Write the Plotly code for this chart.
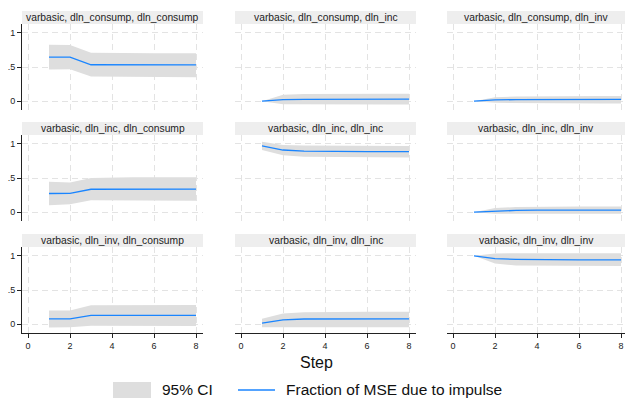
import plotly.graph_objects as go

# ---------------- data ----------------
steps = [1, 2, 3, 4, 5, 6, 7, 8]
irf_name = "varbasic"
variables = ["dln_consump", "dln_inc", "dln_inv"]
x_tickvals = [0, 2, 4, 6, 8]
y_tickvals = [0, 0.5, 1]
y_ticktext = ["0", ".5", "1"]
x_title = "Step"
ci_label = "95% CI"
line_label = "Fraction of MSE due to impulse"

# impulse dln_consump
fevd_consump_consump = [0.645, 0.645, 0.533, 0.532, 0.531, 0.531, 0.531, 0.531]
lo_consump_consump = [0.465, 0.468, 0.360, 0.352, 0.350, 0.350, 0.350, 0.350]
hi_consump_consump = [0.825, 0.822, 0.710, 0.705, 0.703, 0.703, 0.703, 0.703]

fevd_consump_inc = [0.0, 0.022, 0.026, 0.027, 0.028, 0.028, 0.028, 0.028]
lo_consump_inc = [0.0, -0.045, -0.050, -0.050, -0.050, -0.050, -0.050, -0.050]
hi_consump_inc = [0.0, 0.094, 0.105, 0.108, 0.108, 0.108, 0.108, 0.108]

fevd_consump_inv = [0.0, 0.018, 0.022, 0.024, 0.025, 0.025, 0.025, 0.025]
lo_consump_inv = [0.0, -0.025, -0.033, -0.035, -0.036, -0.036, -0.036, -0.036]
hi_consump_inv = [0.0, 0.055, 0.068, 0.072, 0.074, 0.075, 0.075, 0.075]

# impulse dln_inc
fevd_inc_consump = [0.273, 0.275, 0.335, 0.337, 0.338, 0.338, 0.338, 0.338]
lo_inc_consump = [0.100, 0.117, 0.175, 0.170, 0.168, 0.168, 0.168, 0.168]
hi_inc_consump = [0.444, 0.434, 0.500, 0.508, 0.510, 0.510, 0.510, 0.510]

fevd_inc_inc = [0.970, 0.910, 0.893, 0.888, 0.886, 0.886, 0.886, 0.886]
lo_inc_inc = [0.910, 0.835, 0.810, 0.804, 0.802, 0.802, 0.802, 0.802]
hi_inc_inc = [1.030, 0.985, 0.975, 0.972, 0.970, 0.970, 0.970, 0.970]

fevd_inc_inv = [0.0, 0.018, 0.025, 0.028, 0.029, 0.029, 0.029, 0.029]
lo_inc_inv = [0.0, -0.025, -0.026, -0.025, -0.025, -0.025, -0.025, -0.025]
hi_inc_inv = [0.0, 0.060, 0.075, 0.080, 0.082, 0.082, 0.082, 0.082]

# impulse dln_inv
fevd_inv_consump = [0.078, 0.078, 0.127, 0.127, 0.127, 0.127, 0.127, 0.127]
lo_inv_consump = [-0.048, -0.046, -0.025, -0.026, -0.026, -0.026, -0.026, -0.026]
hi_inv_consump = [0.200, 0.200, 0.278, 0.280, 0.280, 0.280, 0.280, 0.280]

fevd_inv_inc = [0.015, 0.063, 0.075, 0.077, 0.078, 0.078, 0.078, 0.078]
lo_inv_inc = [-0.045, -0.045, -0.045, -0.045, -0.045, -0.045, -0.045, -0.045]
hi_inv_inc = [0.078, 0.156, 0.175, 0.180, 0.181, 0.181, 0.181, 0.181]

fevd_inv_inv = [1.0, 0.960, 0.950, 0.943, 0.940, 0.940, 0.940, 0.940]
lo_inv_inv = [1.0, 0.888, 0.860, 0.853, 0.850, 0.850, 0.850, 0.850]
hi_inv_inv = [1.0, 1.034, 1.040, 1.040, 1.040, 1.040, 1.040, 1.040]

panels = [
    (variables[0], variables[0], fevd_consump_consump, lo_consump_consump, hi_consump_consump),
    (variables[0], variables[1], fevd_consump_inc, lo_consump_inc, hi_consump_inc),
    (variables[0], variables[2], fevd_consump_inv, lo_consump_inv, hi_consump_inv),
    (variables[1], variables[0], fevd_inc_consump, lo_inc_consump, hi_inc_consump),
    (variables[1], variables[1], fevd_inc_inc, lo_inc_inc, hi_inc_inc),
    (variables[1], variables[2], fevd_inc_inv, lo_inc_inv, hi_inc_inv),
    (variables[2], variables[0], fevd_inv_consump, lo_inv_consump, hi_inv_consump),
    (variables[2], variables[1], fevd_inv_inc, lo_inv_inc, hi_inv_inc),
    (variables[2], variables[2], fevd_inv_inv, lo_inv_inv, hi_inv_inv),
]

# ---------------- style / layout ----------------
W, H = 625, 398
FONT = "Liberation Sans, Arial, sans-serif"
BAND = "#dedede"
BLUE = "#1a85ff"
GRID = "#e3e3e3"
STRIP = "#eeeeee"
AXIS = "#222222"

col_px = [(22, 203), (235, 416), (447, 625)]
row_px = [(24, 110), (135, 221), (247, 333)]
strip_px = [(11, 24), (122, 135), (234, 247)]
x_ranges = [[-0.286, 8.333], [-0.286, 8.333], [-0.286, 8.19]]
y_range = [-0.13, 1.13]


def xd(a, b):
    return [a / W, b / W]


def yd(top, bottom):
    return [1 - bottom / H, 1 - top / H]


fig = go.Figure()
layout = dict(
    width=W, height=H,
    margin=dict(l=0, r=0, t=0, b=0),
    paper_bgcolor="white", plot_bgcolor="white",
    showlegend=False,
    font=dict(family=FONT, color="#222"),
)
shapes = []
annotations = []

for k, (imp, resp, fevd, lo, hi) in enumerate(panels):
    r, c = divmod(k, 3)
    sfx = "" if k == 0 else str(k + 1)
    xa, ya = "x" + sfx, "y" + sfx

    band_x = steps + steps[::-1]
    band_y = hi + lo[::-1]
    fig.add_trace(go.Scatter(
        x=band_x, y=band_y, xaxis=xa, yaxis=ya, mode="lines",
        fill="toself", fillcolor=BAND, line=dict(width=0, color=BAND),
        name=ci_label, hoverinfo="skip",
    ))
    fig.add_trace(go.Scatter(
        x=steps, y=fevd, xaxis=xa, yaxis=ya, mode="lines",
        line=dict(color=BLUE, width=1.3), name=line_label,
    ))

    bottom_row = (r == 2)
    left_col = (c == 0)
    layout["xaxis" + sfx] = dict(
        domain=xd(*col_px[c]), anchor=ya, range=x_ranges[c],
        tickvals=x_tickvals, showgrid=True, gridcolor=GRID, gridwidth=1,
        griddash="6px,4px", zeroline=False,
        showline=bottom_row, linecolor=AXIS, linewidth=1,
        ticks="outside" if bottom_row else "", ticklen=4, tickcolor=AXIS,
        showticklabels=bottom_row, tickfont=dict(size=9, color="#222"),
        fixedrange=True,
    )
    layout["yaxis" + sfx] = dict(
        domain=yd(*row_px[r]), anchor=xa, range=y_range,
        tickvals=y_tickvals, ticktext=y_ticktext,
        showgrid=True, gridcolor=GRID, gridwidth=1, griddash="6px,4px",
        zeroline=False,
        showline=left_col, linecolor=AXIS, linewidth=1,
        ticks="outside" if left_col else "", ticklen=4, tickcolor=AXIS,
        showticklabels=left_col, tickfont=dict(size=9, color="#222"),
        fixedrange=True,
    )

    # title strip
    x0, x1 = col_px[c]
    t0, t1 = strip_px[r]
    shapes.append(dict(type="rect", xref="paper", yref="paper",
                       x0=x0 / W, x1=x1 / W, y0=1 - t1 / H, y1=1 - t0 / H,
                       fillcolor=STRIP, line=dict(width=0), layer="below"))
    annotations.append(dict(
        text=f"{irf_name}, {imp}, {resp}", xref="paper", yref="paper",
        x=(x0 + x1) / 2 / W, y=1 - (t0 + t1) / 2 / H,
        xanchor="center", yanchor="middle", showarrow=False,
        font=dict(size=10.3, color="#222", family=FONT),
    ))

# axis title
annotations.append(dict(
    text=x_title, xref="paper", yref="paper", x=316 / W, y=1 - 362 / H,
    xanchor="center", yanchor="middle", showarrow=False,
    font=dict(size=16, color="#111", family=FONT),
))

# legend (keys + labels)
leg_y = 389
shapes.append(dict(type="rect", xref="paper", yref="paper",
                   x0=113 / W, x1=151 / W, y0=1 - 402 / H, y1=1 - 382 / H,
                   fillcolor=BAND, line=dict(width=0)))
annotations.append(dict(
    text=ci_label, xref="paper", yref="paper", x=160 / W, y=1 - leg_y / H,
    xanchor="left", yanchor="middle", showarrow=False,
    font=dict(size=15.5, color="#111", family=FONT),
))
shapes.append(dict(type="line", xref="paper", yref="paper",
                   x0=238 / W, x1=275 / W, y0=1 - 390 / H, y1=1 - 390 / H,
                   line=dict(color=BLUE, width=1.3)))
annotations.append(dict(
    text=line_label, xref="paper", yref="paper", x=284 / W, y=1 - leg_y / H,
    xanchor="left", yanchor="middle", showarrow=False,
    font=dict(size=15.5, color="#111", family=FONT),
))

layout["shapes"] = shapes
layout["annotations"] = annotations
fig.update_layout(**layout)
fig.write_html(
    "out.html",
    config={"displayModeBar": False},
    post_script="document.body.style.margin='0';document.body.style.overflow='hidden';",
)
